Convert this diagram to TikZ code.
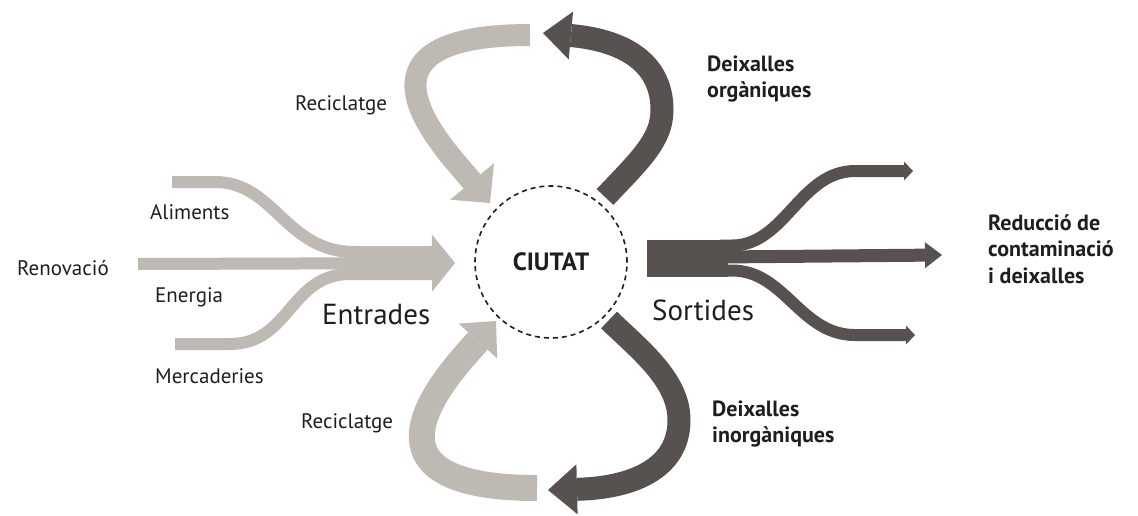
\documentclass[tikz,border=0pt]{standalone}
\usepackage{fontspec}
\setmainfont{PT Sans}
\usetikzlibrary{arrows.meta}
\definecolor{inlight}{HTML}{BEB9B3}
\definecolor{outdark}{HTML}{57524F}
\definecolor{ink}{HTML}{1E1E1E}

\begin{document}
\begin{tikzpicture}[x=1pt, y=-1pt]
        %style
        \tikzset{lbl/.style = {inner sep=0pt, anchor=west, text=ink, font=\fontsize{21}{25}\selectfont}}
        \tikzset{boldlbl/.style = {lbl, align=left, font=\fontsize{22}{26.5}\selectfont\bfseries}}
        \tikzset{biglbl/.style = {lbl, font=\fontsize{29}{34}\selectfont}}
        \tikzset{city/.style = {shape=circle, draw=ink, dash pattern=on 5pt off 4pt, line width=1.6pt, minimum size=152pt, text=ink, font=\fontsize{25}{30}\selectfont\bfseries}}
        \tikzset{inflow/.style = {draw=inlight, line width=12pt}}
        \tikzset{outflow/.style = {draw=outdark, line width=12pt}}
        \useasboundingbox (0,0) rectangle (1138,515);
        % ends of the flows
        \coordinate (alim)   at (172,182);
        \coordinate (reno)   at (138,264);
        \coordinate (merc)   at (175,344);
        \coordinate (intip)  at (455,263);
        \coordinate (outbeg) at (647,258);
        \coordinate (outup)  at (913,171);
        \coordinate (outmid) at (942,255);
        \coordinate (outlow) at (915,335);
        \coordinate (rectop)  at (530,35);
        \coordinate (rectip1) at (490,203);
        \coordinate (recbot)  at (537,488);
        \coordinate (rectip2) at (496,321);
        \coordinate (orgbeg)  at (605,197);
        \coordinate (orgtip)  at (543,33);
        \coordinate (inobeg)  at (609,320);
        \coordinate (inotip)  at (548,490);
        % entrades
        \draw [inlight, line width=33pt] (350,263) -- (432,263);
        \draw [inflow] (alim) -- (215,182) .. controls (275,182) and (285,252) .. (355,252) -- (432,252);
        \draw [inflow] (merc) -- (230,344) .. controls (290,344) and (290,274) .. (350,274) -- (432,274);
        \draw [inflow, -{Triangle[length=23pt, width=57pt, line width=0pt]}] (reno) -- (intip);
        % sortides
        \draw [outdark, line width=37pt] (outbeg) -- (728,258);
        \draw [outflow, -{Triangle[length=9pt, width=19pt, line width=0pt]}] (720,245.5) -- (732,245.5) .. controls (785,245.5) and (800,171) .. (855,171) -- (outup);
        \draw [outflow, line width=13pt, -{Triangle[length=17pt, width=26pt, line width=0pt]}] (720,257) -- (outmid);
        \draw [outflow, -{Triangle[length=9pt, width=19pt, line width=0pt]}] (720,270.5) -- (732,270.5) .. controls (785,270.5) and (800,335) .. (855,335) -- (outlow);
        % reciclatge
        \draw [inlight, line width=22pt, -{Triangle[length=28pt, width=57pt, line width=0pt]}] (rectop) .. controls (332,35) and (445,149) .. (rectip1);
        \draw [inlight, line width=26pt, -{Triangle[length=27pt, width=52pt, line width=0pt]}] (recbot) .. controls (340,488) and (449,373) .. (rectip2);
        % deixalles
        \draw [outdark, line width=23pt, -{Triangle[length=28pt, width=48pt, line width=0pt]}] (orgbeg) .. controls (640,160) and (662,140) .. (662,110) .. controls (662,60) and (620,40) .. (orgtip);
        \draw [outdark, line width=23pt, -{Triangle[length=29pt, width=50pt, line width=0pt]}] (inobeg) .. controls (640,350) and (679,380) .. (679,420) .. controls (679,470) and (630,488) .. (inotip);
        % ciutat
        \node[city] (ciutat) at (551,262) {CIUTAT};
        % texts
        \node[lbl] (aliments)  at (150,212) {Aliments};
        \node[lbl] (renovacio) at (17,268)  {Renovació};
        \node[lbl] (energia)   at (155,297) {Energia};
        \node[lbl] (mercad)    at (155,376) {Mercaderies};
        \node[lbl] (recup)     at (295,105) {Reciclatge};
        \node[lbl] (reclow)    at (301,423) {Reciclatge};
        \node[biglbl] (entrades) at (322,315) {Entrades};
        \node[biglbl] (sortides) at (652,310) {Sortides};
        \node[boldlbl] (organ)   at (707,79)  {Deixalles\\orgàniques};
        \node[boldlbl] (inorgan) at (712,424) {Deixalles\\inorgàniques};
        \node[boldlbl, text depth=0pt] (reduc) at (988,249) {Reducció de\\contaminació\\i deixalles};
\end{tikzpicture}
\end{document}
